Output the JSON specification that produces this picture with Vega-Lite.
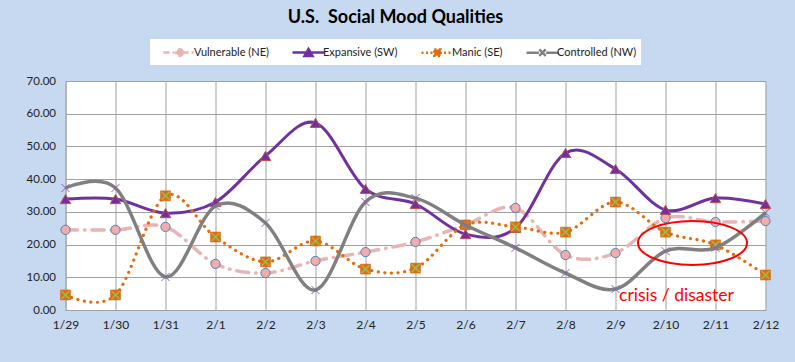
{
  "$schema": "https://vega.github.io/schema/vega-lite/v6.json",
  "width": 700,
  "height": 229,
  "autosize": {"type": "none"},
  "padding": {"left": 65.5, "top": 81, "right": 29.5, "bottom": 52},
  "background": "#c6d9f1",
  "view": {"fill": "white", "stroke": null},
  "title": {"text": "U.S.\u00a0 Social Mood Qualities", "font": "Lato", "fontSize": 18, "fontWeight": "bold", "color": "#000000", "anchor": "middle", "dx": -20, "offset": 12},
  "config": {
    "axis": {"labelFont": "Lato", "labelColor": "#222222", "ticks": false, "domainColor": "#a0a0a0", "gridColor": "#a0a0a0", "gridWidth": 1, "title": null},
    "legend": {
      "orient": "none", "legendX": 84.5, "legendY": -42, "direction": "horizontal", "columns": 4,
      "columnPadding": 14, "padding": 4, "fillColor": "white", "strokeColor": null,
      "symbolSize": 256, "labelOffset": 21, "labelFont": "Lato", "labelFontSize": 11, "labelColor": "#222222",
      "symbolStrokeWidth": 2.5, "rowPadding": 0
    }
  },
  "datasets": {
    "mood": [
      {"date": "1/29", "series": "Vulnerable (NE)", "value": 24.5},
      {"date": "1/30", "series": "Vulnerable (NE)", "value": 24.5},
      {"date": "1/31", "series": "Vulnerable (NE)", "value": 25.4},
      {"date": "2/1", "series": "Vulnerable (NE)", "value": 14.1},
      {"date": "2/2", "series": "Vulnerable (NE)", "value": 11.3},
      {"date": "2/3", "series": "Vulnerable (NE)", "value": 15.0},
      {"date": "2/4", "series": "Vulnerable (NE)", "value": 17.7},
      {"date": "2/5", "series": "Vulnerable (NE)", "value": 20.8},
      {"date": "2/6", "series": "Vulnerable (NE)", "value": 26.0},
      {"date": "2/7", "series": "Vulnerable (NE)", "value": 31.2},
      {"date": "2/8", "series": "Vulnerable (NE)", "value": 16.8},
      {"date": "2/9", "series": "Vulnerable (NE)", "value": 17.4},
      {"date": "2/10", "series": "Vulnerable (NE)", "value": 28.1},
      {"date": "2/11", "series": "Vulnerable (NE)", "value": 26.9},
      {"date": "2/12", "series": "Vulnerable (NE)", "value": 27.2},
      {"date": "1/29", "series": "Expansive (SW)", "value": 33.9},
      {"date": "1/30", "series": "Expansive (SW)", "value": 33.9},
      {"date": "1/31", "series": "Expansive (SW)", "value": 29.6},
      {"date": "2/1", "series": "Expansive (SW)", "value": 33.0},
      {"date": "2/2", "series": "Expansive (SW)", "value": 47.1},
      {"date": "2/3", "series": "Expansive (SW)", "value": 57.2},
      {"date": "2/4", "series": "Expansive (SW)", "value": 37.0},
      {"date": "2/5", "series": "Expansive (SW)", "value": 32.4},
      {"date": "2/6", "series": "Expansive (SW)", "value": 23.2},
      {"date": "2/7", "series": "Expansive (SW)", "value": 25.1},
      {"date": "2/8", "series": "Expansive (SW)", "value": 48.0},
      {"date": "2/9", "series": "Expansive (SW)", "value": 43.1},
      {"date": "2/10", "series": "Expansive (SW)", "value": 30.6},
      {"date": "2/11", "series": "Expansive (SW)", "value": 34.2},
      {"date": "2/12", "series": "Expansive (SW)", "value": 32.4},
      {"date": "1/29", "series": "Manic (SE)", "value": 4.6},
      {"date": "1/30", "series": "Manic (SE)", "value": 4.6},
      {"date": "1/31", "series": "Manic (SE)", "value": 34.9},
      {"date": "2/1", "series": "Manic (SE)", "value": 22.3},
      {"date": "2/2", "series": "Manic (SE)", "value": 14.7},
      {"date": "2/3", "series": "Manic (SE)", "value": 21.1},
      {"date": "2/4", "series": "Manic (SE)", "value": 12.5},
      {"date": "2/5", "series": "Manic (SE)", "value": 12.8},
      {"date": "2/6", "series": "Manic (SE)", "value": 26.0},
      {"date": "2/7", "series": "Manic (SE)", "value": 25.4},
      {"date": "2/8", "series": "Manic (SE)", "value": 23.8},
      {"date": "2/9", "series": "Manic (SE)", "value": 33.0},
      {"date": "2/10", "series": "Manic (SE)", "value": 23.8},
      {"date": "2/11", "series": "Manic (SE)", "value": 19.9},
      {"date": "2/12", "series": "Manic (SE)", "value": 10.7},
      {"date": "1/29", "series": "Controlled (NW)", "value": 37.3},
      {"date": "1/30", "series": "Controlled (NW)", "value": 37.3},
      {"date": "1/31", "series": "Controlled (NW)", "value": 10.1},
      {"date": "2/1", "series": "Controlled (NW)", "value": 31.8},
      {"date": "2/2", "series": "Controlled (NW)", "value": 26.6},
      {"date": "2/3", "series": "Controlled (NW)", "value": 6.1},
      {"date": "2/4", "series": "Controlled (NW)", "value": 33.0},
      {"date": "2/5", "series": "Controlled (NW)", "value": 34.2},
      {"date": "2/6", "series": "Controlled (NW)", "value": 26.0},
      {"date": "2/7", "series": "Controlled (NW)", "value": 19.0},
      {"date": "2/8", "series": "Controlled (NW)", "value": 11.3},
      {"date": "2/9", "series": "Controlled (NW)", "value": 6.4},
      {"date": "2/10", "series": "Controlled (NW)", "value": 18.0},
      {"date": "2/11", "series": "Controlled (NW)", "value": 19.0},
      {"date": "2/12", "series": "Controlled (NW)", "value": 29.7}
    ],
    "ellipse": [{"date": "2/11", "value": 20.5}],
    "note": [{"date": "2/10", "value": 4.3, "label": "crisis / disaster"}]
  },
  "data": {"name": "mood"},
  "encoding": {
    "x": {
      "field": "date", "type": "ordinal", "sort": null,
      "scale": {"domain": ["1/29", "1/30", "1/31", "2/1", "2/2", "2/3", "2/4", "2/5", "2/6", "2/7", "2/8", "2/9", "2/10", "2/11", "2/12"], "padding": 0},
      "axis": {"labelAngle": 0, "grid": true, "labelPadding": 9, "labelFontSize": 12}
    },
    "y": {
      "field": "value", "type": "quantitative",
      "scale": {"domain": [0, 70], "nice": false},
      "axis": {"values": [0, 10, 20, 30, 40, 50, 60, 70], "format": ".2f", "labelPadding": 10, "labelFontSize": 11.5, "grid": true}
    }
  },
  "layer": [
    {
      "transform": [{"filter": "datum.series === 'Vulnerable (NE)'"}],
      "mark": {"type": "line", "interpolate": "cardinal", "stroke": "#e6b5b4", "strokeWidth": 3.5, "strokeDash": [12, 7, 0.5, 7], "strokeCap": "round"}
    },
    {
      "transform": [{"filter": "datum.series === 'Vulnerable (NE)'"}],
      "mark": {"type": "point", "shape": "circle", "filled": true, "fill": "#f4acab", "stroke": "#4f81bd", "strokeWidth": 1, "size": 85, "opacity": 1}
    },
    {
      "transform": [{"filter": "datum.series === 'Expansive (SW)'"}],
      "mark": {"type": "line", "interpolate": "cardinal", "stroke": "#7030a0", "strokeWidth": 3}
    },
    {
      "transform": [{"filter": "datum.series === 'Expansive (SW)'"}],
      "mark": {"type": "point", "shape": "triangle-up", "filled": true, "fill": "#7030a0", "stroke": "#c0504d", "strokeWidth": 1, "size": 110, "opacity": 1}
    },
    {
      "transform": [{"filter": "datum.series === 'Manic (SE)'"}],
      "mark": {"type": "line", "interpolate": "cardinal", "stroke": "#e46c0a", "strokeWidth": 3.2, "strokeDash": [0.1, 6.5], "strokeCap": "round"}
    },
    {
      "transform": [{"filter": "datum.series === 'Manic (SE)'"}],
      "mark": {"type": "point", "shape": "square", "filled": true, "fill": "#e46c0a", "stroke": "#d0600a", "strokeWidth": 0.5, "size": 100, "opacity": 1}
    },
    {
      "transform": [{"filter": "datum.series === 'Manic (SE)'"}],
      "mark": {"type": "point", "shape": "M -0.8 -0.8 L 0.8 0.8 M -0.8 0.8 L 0.8 -0.8", "filled": false, "stroke": "#9bbb59", "strokeWidth": 1.5, "size": 100, "opacity": 1}
    },
    {
      "transform": [{"filter": "datum.series === 'Controlled (NW)'"}],
      "mark": {"type": "line", "interpolate": "cardinal", "stroke": "#808080", "strokeWidth": 3.5}
    },
    {
      "transform": [{"filter": "datum.series === 'Controlled (NW)'"}],
      "mark": {"type": "point", "shape": "M -1 -1 L 1 1 M -1 1 L 1 -1", "filled": false, "stroke": "#8064a2", "strokeWidth": 1, "size": 64, "opacity": 1}
    },
    {
      "transform": [{"filter": "false"}],
      "mark": {"type": "point", "filled": true, "opacity": 1},
      "encoding": {
        "shape": {"field": "series", "type": "nominal", "legend": {"title": null},
          "scale": {"domain": ["Vulnerable (NE)", "Expansive (SW)", "Manic (SE)", "Controlled (NW)"],
            "range": [
              "M 0 0 L 1.6 0 M 2.4 0 L 4 0 M 2.42 0 C 2.42 0.23 2.23 0.42 2 0.42 C 1.77 0.42 1.58 0.23 1.58 0 C 1.58 -0.23 1.77 -0.42 2 -0.42 C 2.23 -0.42 2.42 -0.23 2.42 0 Z",
              "M 0 0 L 4 0 M 2 -0.45 L 2.5 0.42 L 1.5 0.42 Z",
              "M 0 0 L 4 0 M 1.6 -0.4 L 2.4 -0.4 L 2.4 0.4 L 1.6 0.4 Z",
              "M 0 0 L 1.55 0 M 2.45 0 L 4 0 M 1.6 -0.4 L 2.4 0.4 M 1.6 0.4 L 2.4 -0.4"
            ]}},
        "fill": {"field": "series", "type": "nominal", "legend": {"title": null},
          "scale": {"domain": ["Vulnerable (NE)", "Expansive (SW)", "Manic (SE)", "Controlled (NW)"], "range": ["#f4acab", "#7030a0", "#e46c0a", "transparent"]}},
        "stroke": {"field": "series", "type": "nominal", "legend": {"title": null},
          "scale": {"domain": ["Vulnerable (NE)", "Expansive (SW)", "Manic (SE)", "Controlled (NW)"], "range": ["#e6b5b4", "#7030a0", "#e46c0a", "#808080"]}},
        "strokeDash": {"field": "series", "type": "nominal", "legend": {"title": null},
          "scale": {"domain": ["Vulnerable (NE)", "Expansive (SW)", "Manic (SE)", "Controlled (NW)"], "range": [[6, 3, 2, 3], [1, 0], [2, 2.5], [1, 0]]}}
      }
    },
    {
      "data": {"name": "ellipse"},
      "mark": {"type": "point", "shape": "M 31.5 0 C 31.5 12.15 7.1 22 -23 22 C -53.1 22 -77.5 12.15 -77.5 0 C -77.5 -12.15 -53.1 -22 -23 -22 C 7.1 -22 31.5 -12.15 31.5 0 Z", "filled": false, "stroke": "#ff0000", "strokeWidth": 2, "size": 4, "opacity": 1}
    },
    {
      "data": {"name": "note"},
      "mark": {"type": "text", "font": "Lato", "fontSize": 17.5, "color": "#ff0000", "align": "center", "baseline": "middle", "dx": 11},
      "encoding": {"text": {"field": "label"}}
    }
  ]
}
